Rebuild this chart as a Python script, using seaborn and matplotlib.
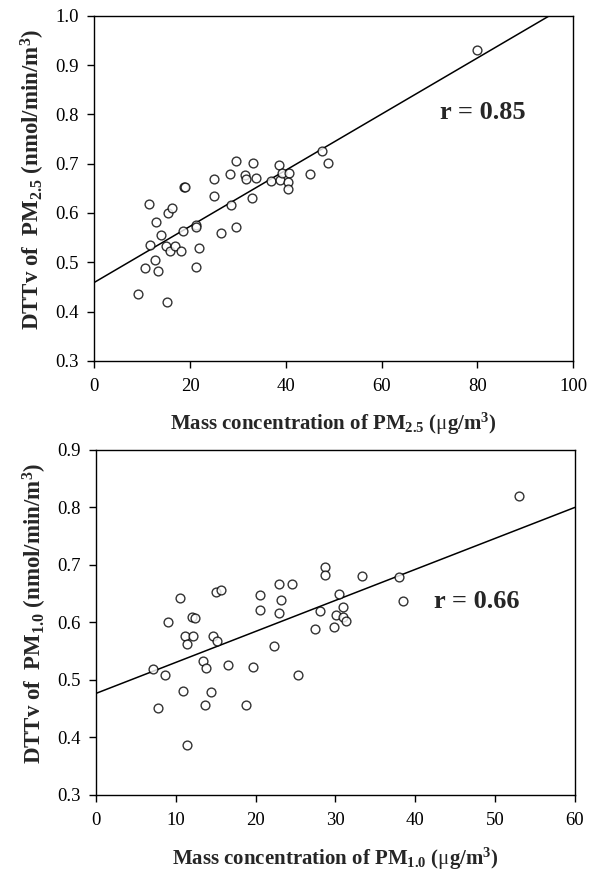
import numpy as np
import pandas as pd
import matplotlib
matplotlib.use("Agg")
import matplotlib.pyplot as plt
import seaborn as sns

# PM2.5 panel
pm25_mass = [9.2, 10.5, 11.4, 11.7, 12.6, 12.8, 13.4, 14.0, 14.9, 15.1, 15.3, 15.8, 16.3,
             16.9, 18.1, 18.5, 18.7, 19.0, 21.2, 21.3, 21.2, 21.9, 25.1, 25.1, 26.5, 28.3,
             28.6, 29.7, 29.7, 31.5, 31.7, 33.0, 33.1, 33.8, 36.9, 38.5, 38.8, 39.3, 40.6,
             40.5, 40.5, 45.1, 47.6, 48.8, 79.9]
pm25_dttv = [0.436, 0.489, 0.618, 0.536, 0.505, 0.582, 0.482, 0.556, 0.534, 0.420, 0.599,
             0.523, 0.611, 0.534, 0.522, 0.563, 0.653, 0.652, 0.575, 0.571, 0.491, 0.529,
             0.669, 0.634, 0.559, 0.680, 0.617, 0.705, 0.572, 0.677, 0.669, 0.631, 0.701,
             0.671, 0.664, 0.697, 0.666, 0.682, 0.681, 0.662, 0.649, 0.679, 0.726, 0.701,
             0.930]

# PM1.0 panel
pm10_mass = [7.1, 7.8, 8.6, 9.0, 10.5, 10.9, 11.4, 11.1, 11.4, 12.0, 12.4, 12.1, 13.4, 13.8,
             13.6, 14.4, 14.7, 15.0, 15.6, 15.2, 16.5, 18.8, 19.7, 20.6, 20.6, 22.3, 22.9,
             22.9, 23.2, 24.5, 25.3, 27.4, 28.1, 28.7, 28.7, 29.8, 30.1, 30.5, 30.9, 31.0,
             31.3, 33.3, 38.0, 38.5, 53.0]
pm10_dttv = [0.519, 0.452, 0.508, 0.600, 0.642, 0.480, 0.387, 0.576, 0.563, 0.609, 0.608,
             0.576, 0.533, 0.520, 0.456, 0.479, 0.577, 0.653, 0.656, 0.568, 0.526, 0.456,
             0.522, 0.648, 0.622, 0.559, 0.617, 0.666, 0.639, 0.667, 0.508, 0.589, 0.620,
             0.697, 0.683, 0.592, 0.613, 0.650, 0.610, 0.627, 0.603, 0.681, 0.679, 0.637,
             0.820]

r_labels = ["r = 0.85", "r = 0.66"]
x_ticks_top = [0, 20, 40, 60, 80, 100]
y_ticks_top = [0.3, 0.4, 0.5, 0.6, 0.7, 0.8, 0.9, 1.0]
x_ticks_bot = [0, 10, 20, 30, 40, 50, 60]
y_ticks_bot = [0.3, 0.4, 0.5, 0.6, 0.7, 0.8, 0.9]

sns.set_style("ticks")
plt.rcParams["font.family"] = ["Liberation Serif", "DejaVu Serif"]
plt.rcParams["mathtext.fontset"] = "custom"
plt.rcParams["mathtext.rm"] = "Liberation Serif"
plt.rcParams["mathtext.bf"] = "Liberation Serif:bold"
plt.rcParams["mathtext.it"] = "Liberation Serif:italic"

fig = plt.figure(figsize=(5.89, 8.76), dpi=100)
ax1 = fig.add_axes([0.160, 0.588, 0.813, 0.394])
ax2 = fig.add_axes([0.163, 0.0925, 0.813, 0.394])

df1 = pd.DataFrame({"mass": pm25_mass, "dttv": pm25_dttv})
df2 = pd.DataFrame({"mass": pm10_mass, "dttv": pm10_dttv})

def panel(ax, df, xlim, ylim, xt, yt, xlabel, ylabel, rtxt, rpos):
    ax.set_xlim(*xlim)
    ax.set_ylim(*ylim)
    sns.regplot(data=df, x="mass", y="dttv", ax=ax, ci=None, truncate=False,
                scatter_kws=dict(s=40, facecolors="white", edgecolors="black",
                                 linewidths=1.0, zorder=3),
                line_kws=dict(color="black", lw=1.1, zorder=2))
    ax.set_xlim(*xlim)
    ax.set_ylim(*ylim)
    ax.set_xticks(xt)
    ax.set_yticks(yt)
    ax.set_xticklabels([str(v) for v in xt])
    ax.set_yticklabels([f"{v:.1f}" for v in yt])
    ax.tick_params(axis="both", direction="out", length=5, width=1, labelsize=13.5,
                   colors="black")
    ax.tick_params(axis="x", pad=7)
    ax.tick_params(axis="y", pad=6)
    for s in ax.spines.values():
        s.set_visible(True)
        s.set_color("black")
        s.set_linewidth(1.0)
    ax.set_xlabel(xlabel, fontsize=15, fontweight="bold", labelpad=12)
    ax.set_ylabel(ylabel, fontsize=16.5, fontweight="bold")
    ax.yaxis.set_label_coords(-0.098, 0.525)
    ax.text(rpos[0], rpos[1], rtxt, fontsize=19, fontweight="bold",
            ha="center", va="center")

panel(ax1, df1, (0, 100), (0.3, 1.0), x_ticks_top, y_ticks_top,
      r"Mass concentration of PM$_{\mathbf{2.5}}$ ($\mathrm{\mu}$g/m$^{\mathbf{3}}$)",
      r"DTTv of  PM$_{\mathbf{2.5}}$ (nmol/min/m$^{\mathbf{3}}$)",
      r_labels[0], (81.2, 0.803))
panel(ax2, df2, (0, 60), (0.3, 0.9), x_ticks_bot, y_ticks_bot,
      r"Mass concentration of PM$_{\mathbf{1.0}}$ ($\mathrm{\mu}$g/m$^{\mathbf{3}}$)",
      r"DTTv of  PM$_{\mathbf{1.0}}$ (nmol/min/m$^{\mathbf{3}}$)",
      r_labels[1], (47.7, 0.637))

fig.savefig("out.png", dpi=100, facecolor="white")
